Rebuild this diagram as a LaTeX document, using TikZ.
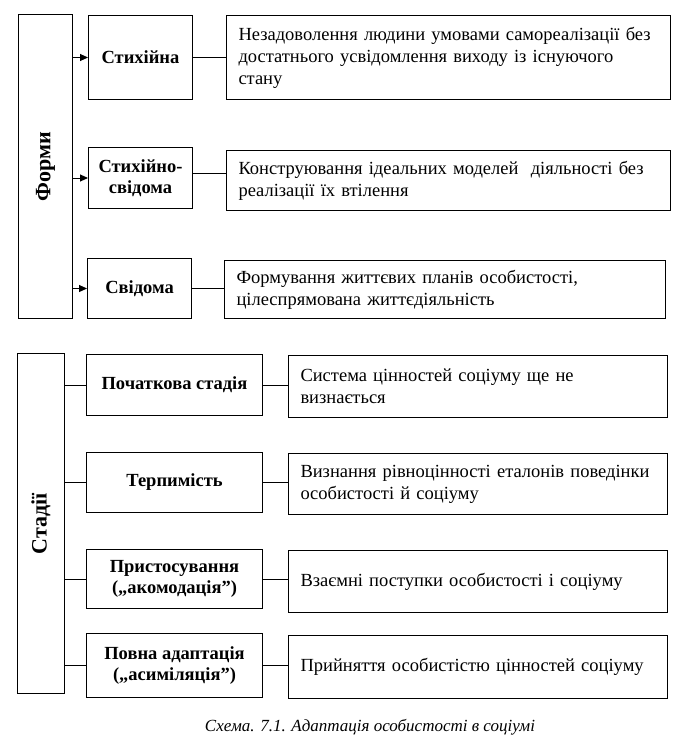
\documentclass[tikz,border=0pt]{standalone}
\usepackage{fontspec}
\setmainfont{Liberation Serif}
\usetikzlibrary{arrows.meta}
\begin{document}
\begin{tikzpicture}[x=1pt,y=-1pt,
  frame/.style={draw,line width=1pt,anchor=north west,inner sep=0pt},
  side/.style={frame,font=\fontsize{22}{26}\selectfont\bfseries},
  lbl/.style={frame,align=center,font=\fontsize{18.5}{21}\selectfont\bfseries},
  desc/.style={frame,inner xsep=12pt,align=left,font=\fontsize{18.5}{22}\selectfont},
  arr/.style={line width=1pt,-{Triangle[length=8pt,width=7pt]}},
  conn/.style={line width=1pt}]
\useasboundingbox (0,0) rectangle (683,755);
% Forms
\node[side,minimum width=54pt,minimum height=304pt] (formy) at (18,14) {\rotatebox{90}{Форми}};
\node[lbl,minimum width=104pt,minimum height=84pt] (f1) at (88,15) {Стихійна};
\node[lbl,minimum width=104pt,minimum height=61pt] (f2) at (88,147) {Стихійно-\\свідома};
\node[lbl,minimum width=104pt,minimum height=60pt] (f3) at (87,258) {Свідома};
\node[desc,minimum width=444pt,minimum height=84pt,text width=420pt] (d1) at (226,15)
  {Незадоволення людини умовами самореалізації без\\достатнього усвідомлення виходу із існуючого\\стану};
\node[desc,minimum width=444pt,minimum height=60pt,text width=420pt] (d2) at (226,150)
  {\makebox[420pt][s]{Конструювання ідеальних моделей\ \ діяльності без}\\реалізації їх втілення};
\node[desc,minimum width=441pt,minimum height=58pt,text width=417pt] (d3) at (224,260)
  {Формування життєвих планів особистості,\\цілеспрямована життєдіяльність};
\draw[arr] (formy.east |- f1.west) -- (f1.west);
\draw[arr] (formy.east |- f2.west) -- (f2.west);
\draw[arr] (formy.east |- f3.west) -- (f3.west);
\coordinate (f2r) at ([yshift=5pt]f2.east);
\draw[conn] (f1.east) -- (d1.west |- f1.east);
\draw[conn] (f2r) -- (d2.west |- f2r);
\draw[conn] (f3.east) -- (d3.west |- f3.east);
% Stages
\node[side,minimum width=47pt,minimum height=340pt] (stadii) at (17,353) {\rotatebox{90}{Стадії}};
\node[lbl,minimum width=176pt,minimum height=61pt] (s1) at (86,354) {Початкова стадія};
\node[lbl,minimum width=176pt,minimum height=60pt] (s2) at (86,452) {Терпимість};
\node[lbl,minimum width=176pt,minimum height=59pt] (s3) at (86,549) {Пристосування\\(„акомодація”)};
\node[lbl,minimum width=176pt,minimum height=64pt] (s4) at (86,633) {Повна адаптація\\(„асиміляція”)};
\node[desc,minimum width=379pt,minimum height=62pt,text width=355pt] (e1) at (288,355)
  {Система цінностей соціуму ще не\\визнається};
\node[desc,minimum width=379pt,minimum height=61pt,text width=355pt] (e2) at (288,453)
  {\makebox[355pt][s]{Визнання рівноцінності еталонів поведінки}\\особистості й соціуму};
\node[desc,minimum width=379pt,minimum height=62pt,text width=355pt] (e3) at (288,550)
  {Взаємні поступки особистості і соціуму};
\node[desc,minimum width=379pt,minimum height=63pt,text width=355pt] (e4) at (288,635)
  {Прийняття особистістю цінностей соціуму};
\foreach \s/\e in {s1/e1,s2/e2,s3/e3,s4/e4}{
  \draw[conn] (stadii.east |- \s.west) -- (\s.west);
  \draw[conn] (\s.east) -- (\e.west |- \s.east);
}
% Caption
\node[font=\fontsize{17}{20}\selectfont\itshape] (cap) at (370,727) {Схема. 7.1. Адаптація особистості в соціумі};
\end{tikzpicture}
\end{document}
